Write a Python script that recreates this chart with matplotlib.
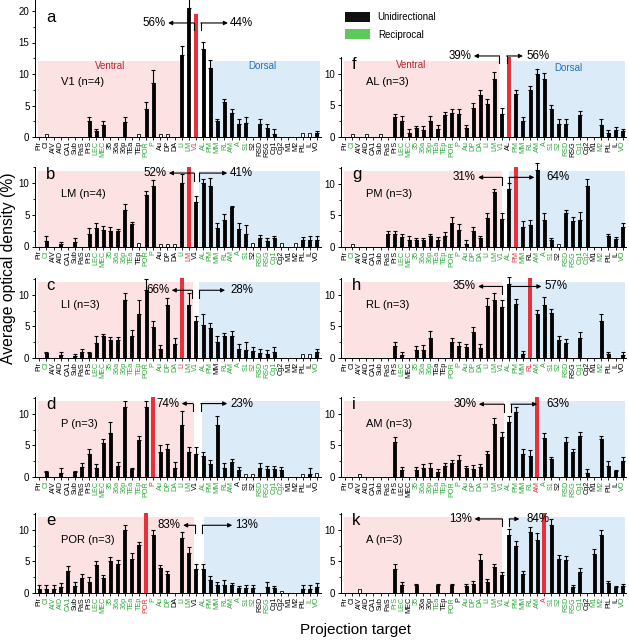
import matplotlib
matplotlib.use('Agg')
import matplotlib.pyplot as plt
import numpy as np
from matplotlib.ticker import MultipleLocator
from matplotlib.patches import Rectangle

plt.rcParams['font.family'] = ['Liberation Sans', 'DejaVu Sans']

# Projection targets (same order in every panel)
targets = ['Pir', 'CI', 'AIV', 'AID', 'CA1', 'Sub', 'PaS', 'PrS', 'LEC', 'MEC',
           '35', '36a', '36p', 'TEa', 'TEp', 'POR', 'P', 'Au', 'DP', 'DA',
           'LI', 'LM', 'V1', 'AL', 'PM', 'MM', 'RL', 'AM', 'A', 'S1',
           'S2', 'RSD', 'RSG', 'Cg1', 'Cg2', 'M1', 'M2', 'PtL', 'IL', 'VO']

panel_letters = ['a', 'b', 'c', 'd', 'e', 'f', 'g', 'h', 'i', 'k']
injected = ['V1', 'LM', 'LI', 'P', 'POR', 'AL', 'PM', 'RL', 'AM', 'A']
n_animals = [4, 4, 3, 3, 3, 3, 3, 3, 3, 3]
left_pct = [56, 52, 66, 74, 83, 39, 31, 35, 30, 13]
right_pct = [44, 41, 28, 23, 13, 56, 64, 57, 63, 84]

# mean optical density (%) and SEM, one value per target
v1_mean = [0, 0.4, 0, 0, 0, 0, 0, 2.55, 1.0, 1.9, 0, 0, 2.4, 0, 0.4, 4.4, 8.5, 0.4, 0.4, 0,
           13.0, 20.4, 0, 13.9, 11.0, 2.6, 5.6, 3.8, 2.0, 2.3, 0, 2.1, 1.4, 0.5, 0, 0, 0, 0.6, 0.6, 0.6]
v1_err = [0, 0, 0, 0, 0, 0, 0, 0.65, 0.3, 0.6, 0, 0, 0.8, 0, 0, 1.1, 2.1, 0, 0, 0,
          1.5, 1.6, 0, 1.2, 1.2, 0.3, 0.5, 0.7, 0.9, 0.8, 0, 0.7, 0.6, 0.7, 0, 0, 0, 0, 0, 0.3]
lm_mean = [0, 0.9, 0, 0.4, 0, 0.7, 0, 1.9, 3.0, 2.6, 2.5, 2.4, 5.7, 3.5, 0.5, 8.2, 9.5, 0.4, 0.4, 0.4,
           10.0, 0, 7.0, 10.1, 9.5, 2.9, 4.2, 6.2, 2.8, 1.9, 0.5, 1.4, 0.9, 1.3, 0.5, 0, 0.5, 1.0, 1.1, 1.1]
lm_err = [0, 0.7, 0, 0.3, 0, 0.6, 0, 1.0, 0.7, 0.6, 0.6, 0.4, 1.0, 0.3, 0, 0.5, 1.0, 0, 0, 0,
          1.4, 0, 1.0, 0.5, 1.3, 0.8, 1.0, 0.2, 0.9, 1.5, 0, 0.4, 0.4, 0.4, 0, 0, 0, 0.5, 0.5, 0.5]
li_mean = [0, 0.8, 0, 0.4, 0, 0.3, 1.0, 0.8, 2.4, 3.4, 2.8, 2.8, 9.1, 3.5, 7.0, 10.7, 4.9, 1.4, 8.3, 2.2,
           0, 8.4, 5.8, 5.2, 4.8, 2.6, 3.4, 3.4, 1.4, 1.2, 1.1, 0.8, 0.7, 1.0, 0, 0, 0, 0.6, 0.6, 0.9]
li_err = [0, 0.1, 0, 0.5, 0, 0.4, 0.4, 0.2, 1.0, 0.35, 0.5, 0.5, 1.1, 0.9, 2.1, 1.8, 0.9, 0.7, 1.1, 0.9,
          0, 1.8, 0.8, 1.8, 0.8, 0.8, 0.6, 0.8, 0.8, 1.4, 0.7, 0.6, 0.6, 0.7, 0, 0, 0, 0, 0, 0.5]
p_mean = [0, 0.8, 0, 0.7, 0, 0.8, 1.65, 3.6, 1.4, 5.4, 6.9, 1.8, 11.0, 1.2, 5.8, 11.0, 0, 4.0, 4.4, 1.5,
          8.2, 4.0, 3.7, 3.35, 2.0, 8.2, 1.5, 2.4, 1.1, 0.5, 0.5, 1.5, 1.3, 1.2, 1.1, 0, 0, 0.4, 0.5, 0.6]
p_err = [0, 0.2, 0, 0.7, 0, 0.2, 0.55, 0.9, 0.7, 0.6, 1.8, 0.5, 1.0, 0.3, 0.7, 1.0, 0, 1.0, 0.8, 0.8,
         2.3, 0.8, 1.1, 0.55, 0.7, 1.4, 0.7, 0.5, 0.5, 0, 0, 0.7, 0.5, 0.55, 0.5, 0, 0, 0, 0.9, 0]
por_mean = [0.7, 0.7, 0.7, 1.0, 3.4, 1.1, 2.4, 1.8, 4.4, 2.4, 5.1, 4.6, 10.0, 5.3, 7.55, 0, 9.1, 3.9, 3.0, 0,
            8.75, 6.25, 3.8, 3.8, 2.1, 1.2, 1.2, 1.2, 0.8, 0.8, 0.8, 0, 1.0, 0.8, 0.3, 0, 0, 0.7, 0.7, 1.0]
por_err = [0.5, 0.5, 0.5, 0.6, 0.8, 0.6, 0.6, 0.8, 0.6, 0.5, 0.6, 0.6, 0.7, 1.0, 0.45, 0, 0.9, 0.5, 0.5, 0,
           0.85, 0.95, 0.8, 0.8, 0.65, 0.6, 0.9, 0.4, 0.35, 0.4, 0.4, 0, 0.7, 0.35, 0, 0, 0, 0.5, 0.5, 0.65]
al_mean = [0, 0.4, 0, 0.4, 0, 0.4, 0, 3.15, 2.5, 0.6, 1.4, 1.05, 2.5, 1.3, 3.4, 3.85, 3.7, 1.4, 4.6, 6.7,
           5.15, 9.2, 3.7, 0, 6.85, 2.5, 7.35, 9.9, 9.1, 4.35, 2.1, 2.1, 0, 3.5, 0, 0, 1.85, 0.7, 1.05, 0.9]
al_err = [0, 0, 0, 0, 0, 0, 0, 0.55, 0.8, 0.7, 0.3, 0.65, 0.8, 0.55, 0.55, 0.65, 0.8, 0.45, 0.8, 0.8,
          0.8, 1.1, 0.9, 0, 0.65, 0.65, 0.7, 0.9, 1.0, 0.75, 0.7, 0.7, 0, 0.55, 0, 0, 0.95, 0.35, 0.55, 0.3]
pm_mean = [0, 0.5, 0, 0, 0, 0, 2.1, 2.1, 1.6, 1.15, 1.05, 1.05, 1.7, 1.15, 1.8, 3.85, 2.75, 0.5, 2.5, 1.4,
           4.6, 8.7, 4.5, 9.2, 0, 3.15, 3.5, 12.2, 4.2, 1.05, 0.4, 5.3, 4.1, 4.3, 9.7, 0, 0, 1.7, 1.2, 3.15]
pm_err = [0, 0, 0, 0, 0, 0, 0.4, 0.4, 0.5, 0.55, 0.45, 0.45, 0.4, 0.45, 0.5, 0.9, 0.95, 0.55, 0.6, 0.4,
          0.8, 0.5, 0.8, 0.9, 0, 0.95, 0.8, 1.1, 1.1, 0.45, 0, 0.5, 0.65, 1.2, 1.1, 0, 0, 0.4, 0.4, 0.65]
rl_mean = [0, 0, 0, 0, 0, 0, 0, 1.9, 0.5, 0, 1.3, 1.2, 3.1, 0, 0, 2.5, 1.9, 1.7, 4.05, 1.55,
           8.2, 9.2, 8.0, 11.7, 8.5, 0.6, 0, 6.9, 8.3, 7.1, 2.85, 2.35, 0, 3.2, 0, 0, 5.85, 0.7, 0, 0.5]
rl_err = [0, 0, 0, 0, 0, 0, 0, 0.7, 0.4, 0, 0.6, 0.9, 1.2, 0, 0, 0.6, 0.55, 0.5, 0.8, 0.7,
          1.2, 1.0, 1.1, 1.1, 0.8, 0.55, 0, 0.75, 1.4, 0.7, 0.65, 0.65, 0, 0.85, 0, 0, 1.05, 0.2, 0, 0.4]
am_mean = [0, 0, 0.5, 0, 0, 0, 0, 5.5, 1.15, 0, 1.05, 1.35, 1.35, 0.8, 1.75, 2.15, 2.7, 1.4, 1.3, 1.55,
           3.6, 8.35, 6.3, 8.7, 10.3, 3.7, 3.35, 0, 6.2, 2.8, 0, 5.6, 3.9, 6.55, 0.7, 0, 6.05, 1.8, 0.9, 2.45]
am_err = [0, 0, 0, 0, 0, 0, 0, 0.8, 0.4, 0, 0.5, 0.65, 0.8, 0.5, 0.5, 0.55, 0.75, 0.35, 0.6, 0.5,
          0.45, 0.9, 0.75, 0.9, 0.8, 0.7, 0.85, 0, 0.7, 0.4, 0, 0.7, 0.5, 0.5, 0.55, 0, 0.4, 0.8, 0.25, 0.65]
a_mean = [0, 0, 0.6, 0, 0, 0, 0, 3.85, 1.3, 0, 1.2, 0, 0, 1.2, 0, 1.2, 0, 1.15, 1.4, 5.15,
          1.75, 4.1, 2.8, 9.2, 7.45, 3.0, 9.6, 8.3, 0, 10.8, 5.35, 5.15, 0.95, 3.25, 0, 6.2, 9.2, 1.6, 0.95, 1.05]
a_err = [0, 0, 0, 0, 0, 0, 0, 0.75, 0.45, 0, 0.3, 0, 0, 0.3, 0, 0.2, 0, 0.35, 0.45, 1.0,
         0.45, 0.5, 0.5, 0.95, 0.7, 0.4, 0.75, 1.15, 0, 0.9, 0.7, 0.75, 0.35, 0.7, 0, 0.75, 0.7, 0.35, 0.2, 0.45]

# targets with reciprocal connections (green labels)
v1_recip = ['LEC', 'MEC', 'POR', 'P', 'LI', 'LM', 'AL', 'PM', 'MM', 'RL', 'AM', 'A', 'S1']
lm_recip = ['CI', 'LEC', 'MEC', '35', '36a', '36p', 'TEa', 'POR', 'P', 'LI', 'AL', 'PM', 'MM', 'RL',
            'AM', 'A', 'S1', 'RSD', 'RSG', 'Cg1']
li_recip = ['CI', 'LEC', 'MEC', '35', '36a', '36p', 'TEa', 'TEp', 'POR', 'P', 'Au', 'DP', 'DA', 'LM',
            'V1', 'AL', 'PM', 'RL', 'AM', 'A', 'S1', 'S2', 'RSD', 'RSG', 'Cg1', 'VO']
p_recip = ['CI', 'LEC', 'MEC', '35', '36a', '36p', 'TEa', 'TEp', 'POR', 'Au', 'DP', 'DA', 'LI', 'LM',
           'AL', 'PM', 'MM', 'RL', 'AM', 'RSD', 'RSG', 'Cg1', 'Cg2']
por_recip = ['CI', 'AIV', 'AID', 'CA1', 'LEC', 'MEC', '35', '36a', '36p', 'TEa', 'TEp', 'P', 'Au', 'DP',
             'LI', 'LM', 'AL', 'PM', 'MM', 'RL', 'AM', 'A', 'S1', 'S2', 'RSG', 'IL', 'VO']
al_recip = ['CI', 'LEC', 'MEC', '35', '36a', '36p', 'TEa', 'TEp', 'POR', 'P', 'Au', 'DP', 'DA', 'LI',
            'LM', 'V1', 'PM', 'MM', 'RL', 'AM', 'A', 'S1', 'S2', 'RSD', 'Cg1', 'M2', 'VO']
pm_recip = ['CI', 'LEC', 'MEC', '35', '36a', '36p', 'TEa', 'TEp', 'POR', 'P', 'Au', 'DP', 'DA', 'LI',
            'LM', 'V1', 'AL', 'MM', 'AM', 'A', 'S1', 'RSD', 'RSG', 'Cg1', 'Cg2', 'M2', 'VO']
rl_recip = ['LEC', '35', '36a', '36p', 'POR', 'P', 'Au', 'DP', 'DA', 'LI', 'LM', 'V1', 'AL', 'PM',
            'MM', 'AM', 'A', 'S1', 'S2', 'RSD', 'Cg1', 'M2']
am_recip = ['35', '36a', '36p', 'TEa', 'TEp', 'POR', 'P', 'Au', 'DP', 'DA', 'LI', 'LM', 'V1', 'AL',
            'PM', 'MM', 'RL', 'A', 'S1', 'RSD', 'RSG', 'Cg1', 'M2', 'VO']
a_recip = ['PrS', 'LEC', '35', 'TEa', 'POR', 'Au', 'DP', 'DA', 'LI', 'LM', 'V1', 'AL', 'PM', 'MM',
           'RL', 'AM', 'S1', 'S2', 'RSD', 'RSG', 'Cg1', 'M1', 'M2', 'VO']

means = [v1_mean, lm_mean, li_mean, p_mean, por_mean, al_mean, pm_mean, rl_mean, am_mean, a_mean]
errs = [v1_err, lm_err, li_err, p_err, por_err, al_err, pm_err, rl_err, am_err, a_err]
recips = [v1_recip, lm_recip, li_recip, p_recip, por_recip, al_recip, pm_recip, rl_recip, am_recip, a_recip]

# ---- layout (pixels of a 629x640 figure) ----
W, H = 629, 640
col_left = [35, 340.7]
ax_w = 285.5
bottoms = [137, 246.5, 358, 477, 593, 137, 247, 358, 477, 593]
# shading: end of ventral, start of dorsal (data units)
shade = [(19.9, 24.1), (21.8, 22.5), (21.6, 22.5), (21.8, 22.8), (21.8, 23.1),
         (21.6, 23.6), (22.0, 23.0), (22.0, 23.0), (22.3, 23.3), (22.1, 23.05)]
# arrow: y, left bracket, left tip, right bracket, right tip, right text x
arrows = [(18.1, 21.7, 18.1, 22.7, 26.5, 26.8),
          (11.6, 21.7, 18.2, 22.5, 26.4, 26.7),
          (10.7, 21.4, 18.6, 22.5, 26.1, 26.8),
          (11.6, 21.6, 20.0, 22.7, 26.4, 26.8),
          (10.7, 21.9, 20.2, 22.9, 27.1, 27.5),
          (12.8, 21.7, 18.1, 22.7, 25.0, 25.5),
          (11.0, 22.0, 18.7, 23.05, 26.6, 28.3),
          (11.3, 22.0, 18.7, 23.0, 27.6, 28.0),
          (11.5, 22.3, 18.8, 23.3, 27.0, 28.3),
          (11.7, 22.1, 18.2, 23.05, 24.5, 25.5)]

pink = '#fce2e2'
blue = '#dcebf8'
red = '#e8303a'
green_txt = '#2fa83a'

fig = plt.figure(figsize=(W / 100, H / 100), dpi=100)
x = np.arange(len(targets))

for k in range(10):
    col = 0 if k < 5 else 1
    top = 21.7 if k == 0 else 12.6
    ppu = 6.3 if k == 0 else 6.33
    h_px = top * ppu
    ax = fig.add_axes([col_left[col] / W, (H - bottoms[k]) / H, ax_w / W, h_px / H])
    ax.set_xlim(-0.6, 39.5)
    ax.set_ylim(0, top)

    pe, bs = shade[k]
    ax.add_patch(Rectangle((-0.2, 0), pe + 0.2, 12, facecolor=pink, edgecolor='none', zorder=0))
    ax.add_patch(Rectangle((bs, 0), 39.4 - bs, 12, facecolor=blue, edgecolor='none', zorder=0))

    m = np.array(means[k], dtype=float)
    e = np.array(errs[k], dtype=float)
    face = ['white' if (mv > 0 and ev == 0) else 'black' for mv, ev in zip(m, e)]
    ax.bar(x, m, width=0.42, color=face, edgecolor='black', linewidth=0.6, zorder=2, clip_on=False)
    sel = e > 0
    ax.errorbar(x[sel], m[sel], yerr=[np.zeros(sel.sum()), e[sel]], fmt='none', ecolor='black',
                elinewidth=0.8, capsize=1.3, capthick=0.8, zorder=3, clip_on=False)

    inj = targets.index(injected[k])
    red_top = 19.5 if k == 0 else top
    ax.bar(inj, red_top, width=0.55, color=red, zorder=2)

    # arrows
    ya, lb, lt, rb, rt, rtx = arrows[k]
    drop = 7.5 / ppu
    kw = dict(color='black', lw=0.8, clip_on=False, zorder=4)
    ax.plot([lb, lb], [ya, ya - drop], **kw)
    ax.plot([rb, rb], [ya, ya - drop], **kw)
    ap = dict(arrowstyle='-|>', color='black', lw=0.8, mutation_scale=6, shrinkA=0, shrinkB=0)
    ax.annotate('', xy=(lt, ya), xytext=(lb, ya), arrowprops=ap, annotation_clip=False, zorder=4)
    ax.annotate('', xy=(rt, ya), xytext=(rb, ya), arrowprops=ap, annotation_clip=False, zorder=4)
    ax.text(lt - 0.35, ya, f'{left_pct[k]}%', ha='right', va='center', fontsize=8.3, zorder=5)
    ax.text(rtx, ya, f'{right_pct[k]}%', ha='left', va='center', fontsize=8.3, zorder=5)

    # panel labels
    ax.text(1.0, 18.9 if k == 0 else 11.4, panel_letters[k], ha='left', va='center', fontsize=12)
    ax.text(3.0, 8.7 if k in (0, 5) else 8.3, f'{injected[k]} (n={n_animals[k]})',
            ha='left', va='center', fontsize=8)
    if k in (0, 5):
        ax.text(10.0 if k == 0 else 9.3, 11.3, 'Ventral', ha='center', va='center',
                fontsize=7, color='#b3282d')
        ax.text(31.3, 11.3 if k == 0 else 10.9, 'Dorsal', ha='center', va='center',
                fontsize=7, color='#2470c2')

    # axes styling
    for s in ['top', 'right']:
        ax.spines[s].set_visible(False)
    for s in ['left', 'bottom']:
        ax.spines[s].set_linewidth(0.7)
    ax.set_yticks([0, 5, 10, 15, 20] if k == 0 else [0, 5, 10])
    ax.yaxis.set_minor_locator(MultipleLocator(2.5))
    ax.tick_params(axis='y', which='major', labelsize=7, length=2.5, width=0.7, pad=1.5)
    ax.tick_params(axis='y', which='minor', length=1.5, width=0.6)
    ax.set_xticks(x)
    ax.set_xticklabels(targets, rotation=90, fontsize=5.2)
    ax.tick_params(axis='x', length=1.8, width=0.6, pad=1)
    for lab, t in zip(ax.get_xticklabels(), targets):
        if t == injected[k] and k != 5:
            lab.set_color(red)
        elif t in recips[k]:
            lab.set_color(green_txt)
        else:
            lab.set_color('black')

# legend
fig.patches.append(Rectangle((345 / W, (H - 22) / H), 25 / W, 10 / H, transform=fig.transFigure,
                             facecolor='#111111', edgecolor='none'))
fig.patches.append(Rectangle((345 / W, (H - 39) / H), 25 / W, 10 / H, transform=fig.transFigure,
                             facecolor='#5ec75e', edgecolor='none'))
fig.text(377 / W, (H - 17) / H, 'Unidirectional', fontsize=7, va='center', ha='left')
fig.text(378 / W, (H - 35) / H, 'Reciprocal', fontsize=7, va='center', ha='left')

fig.text(9 / W, (H - 268) / H, 'Average optical density (%)', rotation=90,
         fontsize=11.3, ha='center', va='center')
fig.text(355 / W, (H - 630) / H, 'Projection target', fontsize=11, ha='center', va='center')

fig.savefig('out.png', dpi=100)
